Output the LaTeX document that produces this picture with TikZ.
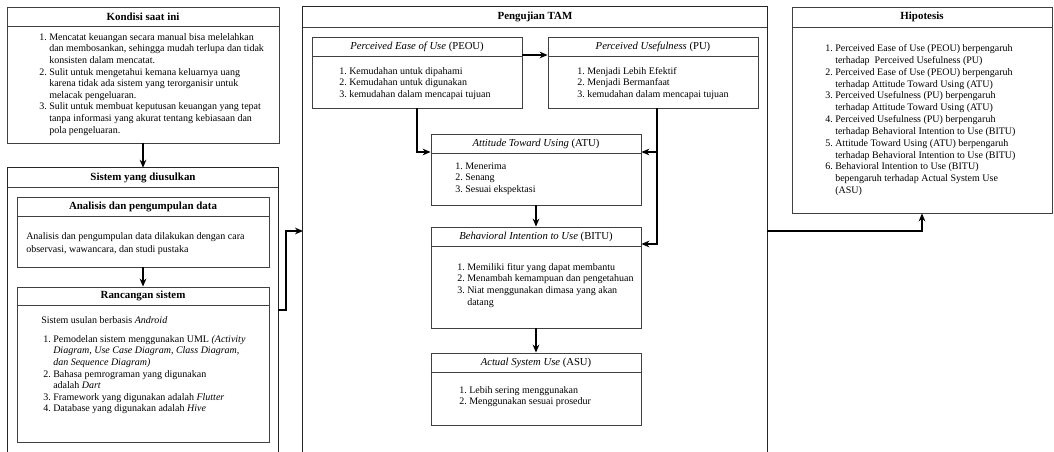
\documentclass[tikz,border=0pt]{standalone}
\usepackage{fontspec}
\setmainfont{Liberation Serif}
\usetikzlibrary{fit,arrows.meta}
\tikzset{
  box/.style={draw=black!75, line width=0.6pt, inner sep=0pt},
  area/.style={inner sep=0pt},
  ttl/.style={font=\fontsize{8.2}{9.5}\selectfont\bfseries, inner sep=0pt},
  ttli/.style={font=\fontsize{8}{9.5}\selectfont, inner sep=0pt},
  txt/.style={font=\fontsize{7.5}{8.7}\selectfont, inner sep=0pt, anchor=north west},
  sepline/.style={draw=black!75, line width=0.6pt},
  edge/.style={draw=black!85, line width=0.6pt},
  conn/.style={draw=black, line width=1.2pt, -{Stealth[length=6pt,width=5pt]}},
}
\begin{document}
\begin{tikzpicture}[x=0.75pt,y=-0.75pt]
\useasboundingbox (0,0) rectangle (1054,452);

% ---------------- Left column ----------------
\node[box, fit={(7,7) (279,143)}] (kond) {};
\draw[sepline] (kond.west |- 0,26) -- (kond.east |- 0,26);
\node[ttl] (kondT) at (143,16.5) {Kondisi saat ini};
\node[txt] (kondL) at (39,32) {\begin{tabular}{@{}l@{\ }l@{}}
1. & Mencatat keuangan secara manual bisa melelahkan\\
   & dan membosankan, sehingga mudah terlupa dan tidak\\
   & konsisten dalam mencatat.\\
2. & Sulit untuk mengetahui kemana keluarnya uang\\
   & karena tidak ada sistem yang terorganisir untuk\\
   & melacak pengeluaran.\\
3. & Sulit untuk membuat keputusan keuangan yang tepat\\
   & tanpa informasi yang akurat tentang kebiasaan dan\\
   & pola pengeluaran.
\end{tabular}};

\node[area, fit={(8,168) (278,452)}] (sis) {};
\draw[edge] (sis.south west) -- (sis.north west) -- (sis.north east) -- (sis.south east);
\draw[sepline] (sis.west |- 0,187) -- (sis.east |- 0,187);
\node[ttl] (sisT) at (143,177.5) {Sistem yang diusulkan};

\node[box, fit={(17,197) (269,267)}] (ana) {};
\draw[sepline] (ana.west |- 0,216) -- (ana.east |- 0,216);
\node[ttl] (anaT) at (143,206.5) {Analisis dan pengumpulan data};
\node[txt] (anaL) at (26,230) {\renewcommand{\arraystretch}{1.12}\begin{tabular}{@{}l@{}}
Analisis dan pengumpulan data dilakukan dengan cara\\
observasi, wawancara, dan studi pustaka
\end{tabular}};

\node[box, fit={(17,287) (269,442)}] (ran) {};
\draw[sepline] (ran.west |- 0,305) -- (ran.east |- 0,305);
\node[ttl] (ranT) at (143,296) {Rancangan sistem};
\node[txt] (ranA) at (41,316) {Sistem usulan berbasis \textit{Android}};
\node[txt] (ranL) at (43,334) {\begin{tabular}{@{}l@{\ }l@{}}
1. & Pemodelan sistem menggunakan UML \textit{(Activity}\\
   & \textit{Diagram, Use Case Diagram, Class Diagram,}\\
   & \textit{dan Sequence Diagram)}\\
2. & Bahasa pemrograman yang digunakan\\
   & adalah \textit{Dart}\\
3. & Framework yang digunakan adalah \textit{Flutter}\\
4. & Database yang digunakan adalah \textit{Hive}
\end{tabular}};

\draw[conn] (kond.south) -- (sis.north);
\draw[conn] (ana.south) -- (ran.north);

% ---------------- Middle column ----------------
\node[area, fit={(303,7) (767,452)}] (tam) {};
\draw[edge] (tam.south west) -- (tam.north west) -- (tam.north east) -- (tam.south east);
\draw[sepline] (tam.west |- 0,27) -- (tam.east |- 0,27);
\node[ttl] (tamT) at (535,17) {Pengujian TAM};

\node[box, fit={(312,37) (522,108)}] (peou) {};
\draw[sepline] (peou.west |- 0,56) -- (peou.east |- 0,56);
\node[ttli] (peouT) at (417,46.5) {\textit{Perceived Ease of Use} (PEOU)};
\node[txt] (peouL) at (339,66) {\begin{tabular}{@{}l@{\ }l@{}}
1. & Kemudahan untuk dipahami\\
2. & Kemudahan untuk digunakan\\
3. & kemudahan dalam mencapai tujuan
\end{tabular}};

\node[box, fit={(548,37) (758,108)}] (pu) {};
\draw[sepline] (pu.west |- 0,56) -- (pu.east |- 0,56);
\node[ttli] (puT) at (653,46.5) {\textit{Perceived Usefulness} (PU)};
\node[txt] (puL) at (577,66) {\begin{tabular}{@{}l@{\ }l@{}}
1. & Menjadi Lebih Efektif\\
2. & Menjadi Bermanfaat\\
3. & kemudahan dalam mencapai tujuan
\end{tabular}};

\node[box, fit={(431,134) (641,205)}] (atu) {};
\draw[sepline] (atu.west |- 0,153) -- (atu.east |- 0,153);
\node[ttli] (atuT) at (536,143.5) {\textit{Attitude Toward Using} (ATU)};
\node[txt] (atuL) at (455,161) {\begin{tabular}{@{}l@{\ }l@{}}
1. & Menerima\\
2. & Senang\\
3. & Sesuai ekspektasi
\end{tabular}};

\node[box, fit={(431,227) (641,328)}] (bitu) {};
\draw[sepline] (bitu.west |- 0,246) -- (bitu.east |- 0,246);
\node[ttli] (bituT) at (536,236.5) {\textit{Behavioral Intention to Use} (BITU)};
\node[txt] (bituL) at (457,262) {\begin{tabular}{@{}l@{\ }l@{}}
1. & Memiliki fitur yang dapat membantu\\
2. & Menambah kemampuan dan pengetahuan\\
3. & Niat menggunakan dimasa yang akan\\
   & datang
\end{tabular}};

\node[box, fit={(431,353) (641,425)}] (asu) {};
\draw[sepline] (asu.west |- 0,372) -- (asu.east |- 0,372);
\node[ttli] (asuT) at (536,362.5) {\textit{Actual System Use} (ASU)};
\node[txt] (asuL) at (459,385) {\begin{tabular}{@{}l@{\ }l@{}}
1. & Lebih sering menggunakan\\
2. & Menggunakan sesuai prosedur
\end{tabular}};

\draw[conn] (peou.east |- 0,55) -- (pu.west |- 0,55);
\draw[conn] (peou.south) |- (atu.west |- 0,152);
\draw[conn] ([xshift=3pt]pu.south) |- (atu.east |- 0,152);
\draw[conn] ([xshift=3pt]pu.south) |- (bitu.east |- 0,244);
\draw[conn] (atu.south) -- (bitu.north);
\draw[conn] (bitu.south) -- (asu.north);

% ---------------- Right column ----------------
\node[box, fit={(792,7) (1052,213)}] (hip) {};
\draw[sepline] (hip.west |- 0,27) -- (hip.east |- 0,27);
\node[ttl] (hipT) at (922,17) {Hipotesis};
\node[txt] (hipL) at (825,43) {\renewcommand{\arraystretch}{1.02}\begin{tabular}{@{}l@{\ }l@{}}
1. & Perceived Ease of Use (PEOU) berpengaruh\\
   & terhadap\ \ Perceived Usefulness (PU)\\
2. & Perceived Ease of Use (PEOU) berpengaruh\\
   & terhadap Attitude Toward Using (ATU)\\
3. & Perceived Usefulness (PU) berpengaruh\\
   & terhadap Attitude Toward Using (ATU)\\
4. & Perceived Usefulness (PU) berpengaruh\\
   & terhadap Behavioral Intention to Use (BITU)\\
5. & Attitude Toward Using (ATU) berpengaruh\\
   & terhadap Behavioral Intention to Use (BITU)\\
6. & Behavioral Intention to Use (BITU)\\
   & bepengaruh terhadap Actual System Use\\
   & (ASU)
\end{tabular}};

% ---------------- Cross-column connectors ----------------
\coordinate (sisout) at (278,310);
\coordinate (tamin) at (303,231);
\coordinate (tamout) at (767,231);
\draw[conn] (sisout) -- ++(8,0) |- (tamin);
\draw[conn] (tamout) -| (hip.south);
\end{tikzpicture}
\end{document}
